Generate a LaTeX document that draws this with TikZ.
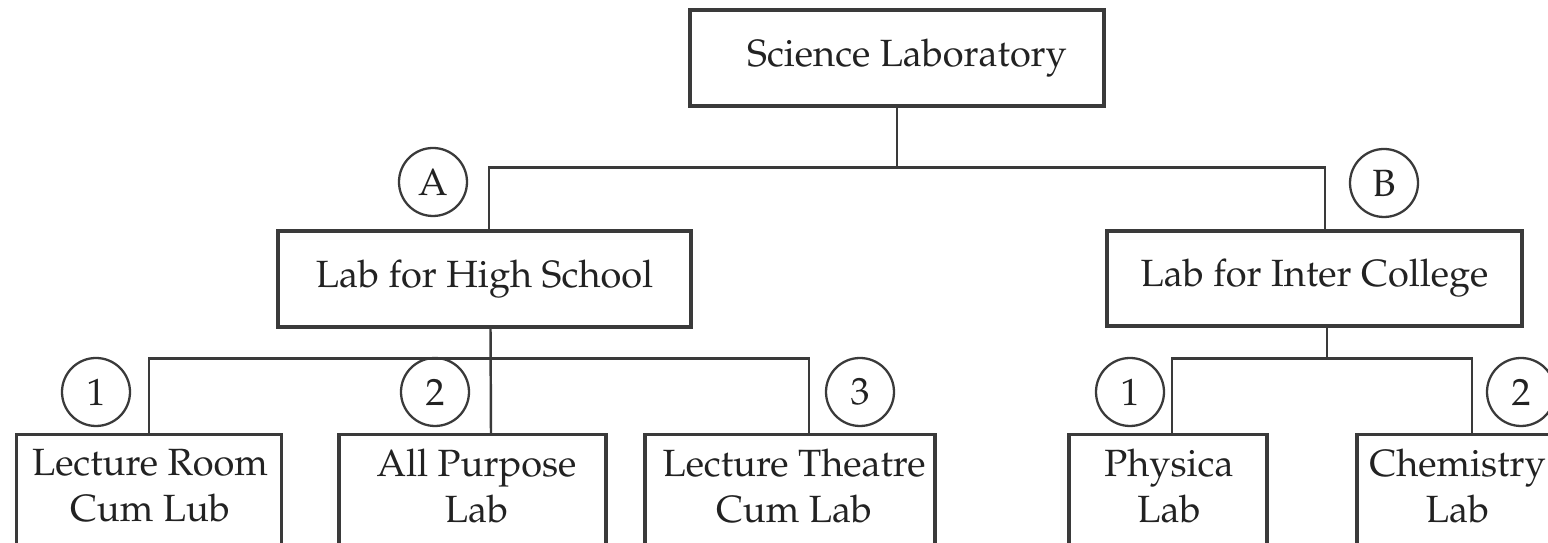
\documentclass[tikz,border=0pt]{standalone}
\usepackage[T1]{fontenc}
\usepackage{mathpazo}
\usetikzlibrary{calc}
\definecolor{linec}{HTML}{3A3A3A}
\definecolor{textc}{HTML}{222222}
\begin{document}
\begin{tikzpicture}[x=0.1mm,y=-0.1mm,
  txt/.style={font=\fontsize{10.8}{13.1}\selectfont, text=textc},
  topbox/.style={txt, draw=linec, line width=0.9pt, inner sep=0pt, align=center},
  lowbox/.style={draw=linec, line width=0.9pt, inner sep=0pt, anchor=north, minimum height=14mm},
  lbl/.style={txt, align=center, inner sep=0pt},
  tag/.style={txt, circle, draw=linec, line width=0.65pt, minimum size=6.8mm, inner sep=0pt},
  conn/.style={draw=linec, line width=0.7pt}]
\useasboundingbox (0,0) rectangle (1548,543);
\clip (0,0) rectangle (1548,543);
% boxes
\node[topbox, minimum width=41.4mm, minimum height=9.6mm] (top) at (897,58) {\hspace*{2mm}Science Laboratory};
\node[topbox, minimum width=41.3mm, minimum height=9.6mm] (hs) at (484.5,279) {Lab for High School};
\node[topbox, minimum width=41.5mm, minimum height=9.5mm] (ic) at (1314.5,278.5) {Lab for Inter College};
\node[lowbox, minimum width=26.55mm] (b1) at (149,433) {};
\node[lowbox, minimum width=26.7mm] (b2) at (472.5,433) {};
\node[lowbox, minimum width=29mm] (b3) at (790,433) {};
\node[lowbox, minimum width=19.8mm] (b4) at (1168,433) {};
\node[lowbox, minimum width=20.3mm] (b5) at (1458.5,433) {};
% texts in lower boxes
\node[lbl] (t1) at ($(b1.north)+(1,53)$) {Lecture Room\\Cum Lub};
\node[lbl] (t2) at ($(b2.north)+(4,53)$) {All Purpose\\Lab};
\node[lbl] (t3) at ($(b3.north)+(4,53)$) {Lecture Theatre\\Cum Lab};
\node[lbl] (t4) at ($(b4.north)+(1,53)$) {Physica\\Lab};
\node[lbl] (t5) at ($(b5.north)+(-1,53)$) {Chemistry\\Lab};
% tags
\node[tag] (cA) at (433,182) {A};
\node[tag] (cB) at (1384,183) {B};
\node[tag] (c1) at (96,392) {1};
\node[tag] (c2) at (435,392) {2};
\node[tag] (c3) at (860,392) {3};
\node[tag] (d1) at (1130,392) {1};
\node[tag] (d2) at (1521,392) {2};
% connectors
\coordinate (j0) at ($(top.south)+(0,60)$);
\draw[conn] (top.south) -- (j0);
\draw[conn] ($(hs.north)+(4.5,0)$) |- (j0) -| ($(ic.north)+(10.5,0)$);
\coordinate (j1) at ($(hs.south)+(6,30)$);
\draw[conn] ($(hs.south)+(6,0)$) -- ($(b2.north)+(18.5,0)$);
\draw[conn] (b1.north) |- (j1) -| ($(b3.north)+(19,0)$);
\coordinate (j2) at ($(ic.south)+(12.5,31)$);
\draw[conn] ($(ic.south)+(12.5,0)$) -- (j2);
\draw[conn] ($(b4.north)+(4,0)$) |- (j2) -| ($(b5.north)+(13.5,0)$);
\end{tikzpicture}
\end{document}
